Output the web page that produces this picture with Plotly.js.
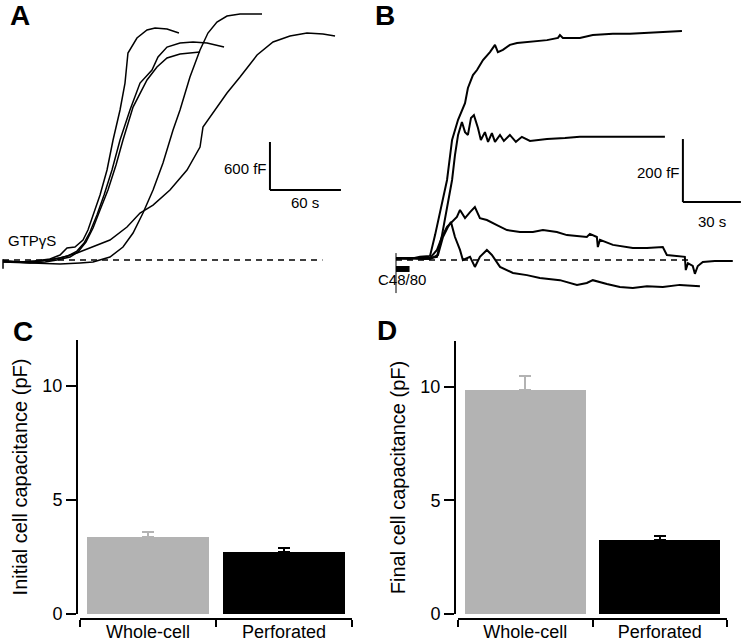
<!DOCTYPE html>
<html>
<head>
<meta charset="utf-8">
<script src="https://cdn.plot.ly/plotly-3.0.1.min.js"></script>
<style>html,body{margin:0;padding:0;background:#fff;}#chart{width:745px;height:641px;}</style>
</head>
<body>
<div id="chart"></div>
<script>
// ---------- Panel A: GTPγS-induced capacitance traces (time s, capacitance fF)
const gtpTime1 = [0,14.4,27.0,39.7,48.2,54.1,60.8,67.6,71.8,76.1,82.0,87.9,93.0,98.9,103.1,105.6,113.2,121.7,128.5,138.6,148.7];
const gtpCap1  = [-12,-25,-12,12,62,150,162,250,375,562,812,1125,1500,1875,2212,2587,2775,2875,2900,2887,2837];
const gtpTime2 = [0,18.6,31.3,44.0,54.9,62.5,68.5,73.5,79.4,85.4,92.1,98.9,107.3,115.8,125.9,131.0,138.6,149.6,160.6,172.4,186.8];
const gtpCap2  = [-25,-25,-12,12,50,112,212,350,562,812,1125,1500,1875,2212,2375,2537,2662,2712,2725,2712,2662];
const gtpTime3 = [0,22.8,35.5,45.6,56.6,63.4,70.1,76.1,82.0,88.7,95.5,101.4,109.9,121.7,130.1,138.6,149.6,166.5];
const gtpCap3  = [-12,-37,-25,0,37,100,225,400,625,875,1187,1500,1912,2250,2412,2525,2575,2600];
const gtpTime4 = [0,31.3,48.2,65.1,76.1,90.4,101.4,109.9,118.3,126.8,135.2,143.7,149.6,158.0,166.5,173.2,180.8,189.3,200.3,218.9];
const gtpCap4  = [-25,-37,-50,-37,-25,37,162,337,587,875,1212,1625,1875,2287,2625,2837,2975,3050,3075,3075];
const gtpTime5 = [0,18.6,31.3,48.2,62.5,76.1,90.4,104.8,115.8,126.8,141.1,155.5,166.5,169.0,177.5,189.3,200.3,214.7,228.2,242.5,256.9,270.4,280.6];
const gtpCap5  = [-12,-25,-12,25,87,162,250,412,587,687,875,1125,1412,1662,1837,2087,2287,2562,2725,2800,2837,2825,2800];

// ---------- Panel B: C48/80-induced capacitance traces (time s, capacitance fF)
const c48Time1 = [0,7.2,12.4,17.6,20.2,23.8,26.4,29.0,32.1,35.7,37.2,39.8,41.9,45.0,48.6,51.2,52.7,55.3,58.9,62.6,69.3,78.1,83.8,84.8,86.3,95.1,101.8,112.2,121.0,129.8,139.1,147.9];
const c48Cap1  = [6,3,10,13,79,175,254,381,445,498,546,587,603,635,660,683,660,667,683,689,692,698,705,714,705,705,714,718,718,721,724,727];
const c48Time2 = [0,7.2,15,21.2,23.8,26.4,29.0,30.5,32.1,34.1,35.7,37.2,38.8,40.3,42.4,43.9,46.0,47.6,49.6,51.2,53.8,55.8,58.9,62.0,65.1,69.3,78.1,87.4,95.1,105.5,115.8,129.8,139.1];
const c48Cap2  = [3,6,3,10,79,168,254,333,397,438,406,397,451,460,419,381,406,375,403,375,397,378,397,375,391,378,384,387,391,391,391,391,391];
const c48Time3 = [0,17.6,21.2,23.8,26.4,29.0,31.5,33.1,35.7,38.3,40.8,43.4,47.0,52.2,57.4,64.1,70.8,76.0,83.2,88.4,98.7,100.3,103.9,104.4,105.5,112.2,122.5,129.8,138.0,140.1,146.8,149.4,149.9,151.0,153.5,154.6,156.1,158.7,164.9,174.2];
const c48Cap3  = [6,6,32,73,105,121,137,159,133,152,168,133,127,111,95,89,89,95,89,79,73,83,73,41,64,48,38,38,41,16,10,10,-32,-10,-19,-44,-19,-6,-3,-3];
const c48Time4 = [0,17.6,21.7,24.3,26.9,28.4,30.5,33.1,34.6,38.3,40.8,43.4,47.0,49.6,53.8,60.5,67.7,74.4,84.8,93.6,98.7,101.8,109.1,115.8,122.5,129.8,138.0,146.8,157.2];
const c48Cap4  = [6,3,16,73,105,121,73,32,0,10,-22,10,32,16,-22,-41,-48,-57,-64,-79,-73,-64,-76,-86,-89,-83,-86,-79,-83];
const c48Stimulus = [0, 7];   // application bar (s)

// ---------- Panels C and D: bar charts (pF)
const categories  = ['Whole-cell', 'Perforated'];
const initialMean = [3.38, 2.72];
const initialSem  = [0.22, 0.15];
const finalMean   = [9.85, 3.26];
const finalSem    = [0.60, 0.17];
const barColors   = ['#b3b3b3', '#000000'];

const FONT = 'Liberation Sans, Arial, sans-serif';
const W = 745, H = 641;
const px = v => v / W;            // paper x from pixel
const py = v => 1 - v / H;        // paper y from pixel

const traces = [];
const aT = [gtpTime1, gtpTime2, gtpTime3, gtpTime4, gtpTime5];
const aC = [gtpCap1, gtpCap2, gtpCap3, gtpCap4, gtpCap5];
aT.forEach((t, i) => traces.push({type:'scatter', mode:'lines', x:t, y:aC[i], xaxis:'x', yaxis:'y',
  line:{color:'#000', width:1.5}, hoverinfo:'skip'}));
const bT = [c48Time1, c48Time2, c48Time3, c48Time4];
const bC = [c48Cap1, c48Cap2, c48Cap3, c48Cap4];
bT.forEach((t, i) => traces.push({type:'scatter', mode:'lines', x:t, y:bC[i], xaxis:'x2', yaxis:'y2',
  line:{color:'#000', width:2}, hoverinfo:'skip'}));

function bars(means, sems, xa, ya) {
  categories.forEach((c, i) => traces.push({type:'bar', x:[i], y:[means[i]], width:0.9,
    xaxis:xa, yaxis:ya, marker:{color:barColors[i], line:{width:0}},
    error_y:{type:'data', symmetric:false, array:[sems[i]], arrayminus:[0], color:barColors[i], thickness:2, width:6},
    hoverinfo:'skip'}));
}
bars(initialMean, initialSem, 'x3', 'y3');
bars(finalMean, finalSem, 'x4', 'y4');

const hidden = {visible:false, showgrid:false, zeroline:false, fixedrange:true};
const barX = (dom, pos) => ({domain:dom, range:[-0.5, 1.5], anchor:'free', position:pos,
  showline:true, linewidth:2, linecolor:'#000', showgrid:false, zeroline:false,
  tickmode:'array', tickvals:[0, 1], ticktext:categories, ticks:'', ticklabelstandoff:-4,
  minor:{tickmode:'linear', tick0:-0.5, dtick:1, ticks:'outside', ticklen:7, tickwidth:2, tickcolor:'#000', showgrid:false},
  tickfont:{size:18, family:FONT, color:'#000'}});
const barY = (dom, pos, title) => ({domain:dom, range:[0, 12], anchor:'free', position:pos,
  showline:true, linewidth:2, linecolor:'#000', showgrid:false, zeroline:false,
  tickmode:'array', tickvals:[0, 5, 10], ticks:'outside', ticklen:10, tickwidth:2, tickcolor:'#000',
  tickfont:{size:18, family:FONT, color:'#000'},
  title:{text:title, font:{size:20, family:FONT, color:'#000'}, standoff:8}});

const scaleA = {t:225.6, c:875, dt:60, dc:600};
const scaleB = {t:148.4, c:184, dt:30, dc:200};
const dashStyle = '6px,5px';

const layout = {
  width:W, height:H, margin:{l:0, r:0, t:0, b:0}, paper_bgcolor:'#fff', plot_bgcolor:'rgba(0,0,0,0)',
  showlegend:false, font:{family:FONT, color:'#000'}, bargap:0,
  xaxis: Object.assign({domain:[0, px(370)], range:[-2.54, 310.15], anchor:'y'}, hidden),
  yaxis: Object.assign({domain:[py(280), 1], range:[-250, 3250], anchor:'x'}, hidden),
  xaxis2: Object.assign({domain:[px(370), 1], range:[-13.45, 180.52], anchor:'y2'}, hidden),
  yaxis2: Object.assign({domain:[py(300), 1], range:[-127, 825.4], anchor:'x2'}, hidden),
  xaxis3: barX([px(80), px(352)], py(619)),
  yaxis3: barY([py(614), py(340)], px(77), 'Initial cell capacitance (pF)'),
  xaxis4: barX([px(458), px(727)], py(619)),
  yaxis4: barY([py(614), py(341)], px(455), 'Final cell capacitance (pF)'),
  shapes: [
    // panel A baseline, start tick, scale bar
    {type:'line', xref:'x', yref:'y', x0:0, x1:270, y0:0, y1:0, line:{color:'#000', width:1.3, dash:dashStyle}},
    {type:'line', xref:'x', yref:'y', x0:0, x1:0, y0:10, y1:-110, line:{color:'#000', width:1.5}},
    {type:'line', xref:'x', yref:'y', x0:scaleA.t, x1:scaleA.t, y0:scaleA.c, y1:scaleA.c + scaleA.dc, line:{color:'#000', width:2}},
    {type:'line', xref:'x', yref:'y', x0:scaleA.t, x1:scaleA.t + scaleA.dt, y0:scaleA.c, y1:scaleA.c, line:{color:'#000', width:2}},
    // panel B baseline, start tick, stimulus bar, scale bar
    {type:'line', xref:'x2', yref:'y2', x0:0, x1:152, y0:0, y1:0, line:{color:'#000', width:1.3, dash:dashStyle}},
    {type:'line', xref:'x2', yref:'y2', x0:0, x1:0, y0:22, y1:-105, line:{color:'#000', width:1}},
    {type:'rect', xref:'x2', yref:'y2', x0:c48Stimulus[0], x1:c48Stimulus[1], y0:-19, y1:-38, fillcolor:'#000', line:{width:0}},
    {type:'line', xref:'x2', yref:'y2', x0:scaleB.t, x1:scaleB.t, y0:scaleB.c, y1:scaleB.c + scaleB.dc, line:{color:'#000', width:2}},
    {type:'line', xref:'x2', yref:'y2', x0:scaleB.t, x1:scaleB.t + scaleB.dt, y0:scaleB.c, y1:scaleB.c, line:{color:'#000', width:2}}
  ],
  annotations: [
    {text:'<b>A</b>', xref:'paper', yref:'paper', x:px(8), y:py(15), xanchor:'left', yanchor:'middle', showarrow:false, font:{size:28, family:FONT}},
    {text:'<b>B</b>', xref:'paper', yref:'paper', x:px(373), y:py(15), xanchor:'left', yanchor:'middle', showarrow:false, font:{size:28, family:FONT}},
    {text:'<b>C</b>', xref:'paper', yref:'paper', x:px(11), y:py(331), xanchor:'left', yanchor:'middle', showarrow:false, font:{size:28, family:FONT}},
    {text:'<b>D</b>', xref:'paper', yref:'paper', x:px(375), y:py(330), xanchor:'left', yanchor:'middle', showarrow:false, font:{size:28, family:FONT}},
    {text:'GTPγS', xref:'x', yref:'y', x:2.5, y:250, xanchor:'left', yanchor:'middle', showarrow:false, font:{size:15, family:FONT}},
    {text:scaleA.dc + ' fF', xref:'x', yref:'y', x:scaleA.t, y:1150, xanchor:'right', yanchor:'middle', xshift:-1, showarrow:false, font:{size:15, family:FONT}},
    {text:scaleA.dt + ' s', xref:'x', yref:'y', x:scaleA.t + scaleA.dt / 2, y:scaleA.c, xanchor:'center', yanchor:'top', yshift:-2, showarrow:false, font:{size:15, family:FONT}},
    {text:'C48/80', xref:'x2', yref:'y2', x:3.1, y:-63, xanchor:'center', yanchor:'middle', showarrow:false, font:{size:15, family:FONT}},
    {text:scaleB.dc + ' fF', xref:'x2', yref:'y2', x:scaleB.t, y:279, xanchor:'right', yanchor:'middle', xshift:-1, showarrow:false, font:{size:15, family:FONT}},
    {text:scaleB.dt + ' s', xref:'x2', yref:'y2', x:scaleB.t + scaleB.dt / 2, y:scaleB.c, xanchor:'center', yanchor:'top', yshift:-9, showarrow:false, font:{size:15, family:FONT}}
  ]
};

Plotly.newPlot('chart', traces, layout, {staticPlot:true, displayModeBar:false});
</script>
</body>
</html>
